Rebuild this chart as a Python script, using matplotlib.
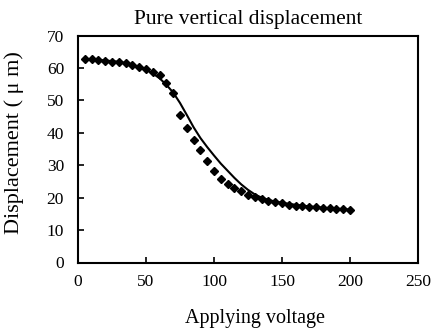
import matplotlib
matplotlib.use("Agg")
import matplotlib.pyplot as plt

# measured data (diamonds)
voltage = [5, 10, 15, 20, 25, 30, 35, 40, 45, 50, 55, 60, 65, 70, 75, 80, 85, 90, 95, 100,
           105, 110, 115, 120, 125, 130, 135, 140, 145, 150, 155, 160, 165, 170, 175, 180,
           185, 190, 195, 200]
displacement = [62.9, 62.6, 62.5, 62.2, 61.8, 61.7, 61.5, 61.0, 60.4, 59.7, 58.7, 57.7, 55.3,
                52.3, 45.5, 41.5, 37.8, 34.7, 31.3, 28.2, 25.7, 24.1, 22.9, 21.9, 20.8, 20.1,
                19.5, 19.0, 18.6, 18.2, 17.8, 17.5, 17.3, 17.1, 17.0, 16.8, 16.7, 16.6, 16.4,
                16.3]

# fitted curve (solid line)
fit_voltage = [5, 10, 20, 30, 40, 50, 55, 60, 65, 70, 75, 80, 85, 90, 95, 100, 105, 110, 115,
               120, 125, 130, 135, 140, 145, 150, 160, 170, 180, 190, 200]
fit_displacement = [62.8, 62.6, 62.3, 61.9, 61.0, 59.4, 58.3, 56.8, 54.8, 52.4, 49.2, 45.5,
                    41.7, 38.4, 35.6, 33.0, 30.5, 28.3, 26.1, 24.1, 22.4, 21.0, 20.0, 19.3,
                    18.8, 18.4, 17.8, 17.3, 16.9, 16.6, 16.3]

x_ticks = [0, 50, 100, 150, 200, 250]
y_ticks = [0, 10, 20, 30, 40, 50, 60, 70]

plt.rcParams['font.family'] = ['Liberation Serif', 'DejaVu Serif']

fig = plt.figure(figsize=(4.36, 3.33), dpi=100)
ax = fig.add_axes([78 / 436, 1 - 262.5 / 333, 340 / 436, 227 / 333])

ax.plot(fit_voltage, fit_displacement, color='black', lw=1.5, zorder=2)
ax.plot(voltage, displacement, linestyle='none', marker='D', ms=4.4,
        color='black', zorder=3)

ax.set_xlim(0, 250)
ax.set_ylim(0, 70)
ax.set_xticks(x_ticks)
ax.set_yticks(y_ticks)
ax.tick_params(direction='in', length=4, width=1.2, labelsize=12.5)
ax.tick_params(axis='y', pad=10)
ax.tick_params(axis='x', pad=8)
for s in ax.spines.values():
    s.set_linewidth(1.5)

ax.set_title('Pure vertical displacement', fontsize=15.5, pad=8)
ax.set_xlabel('Applying voltage', fontsize=14.5)
ax.set_ylabel('Displacement ( μ m)', fontsize=16)
ax.xaxis.set_label_coords(0.52, -0.205)
ax.yaxis.set_label_coords(-0.158, 0.53)

fig.savefig('out.png', dpi=100)
